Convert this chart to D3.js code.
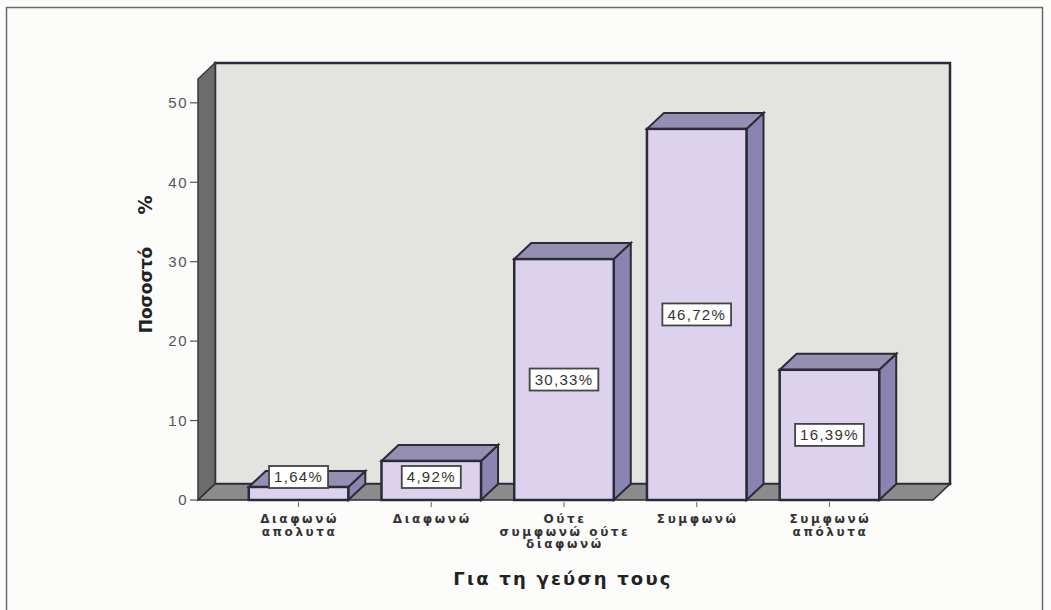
<!DOCTYPE html>
<html><head><meta charset="utf-8">
<script src="https://cdn.jsdelivr.net/npm/d3@7"></script>
<style>html,body{margin:0;padding:0;background:#fcfcfb;}</style>
</head><body>
<svg id="chart" width="1051" height="610"></svg>
<script>
const categories = [["Διαφωνώ","απολυτα"],["Διαφωνώ"],["Ούτε","συμφωνώ ούτε","διαφωνώ"],["Συμφωνώ"],["Συμφωνώ","απόλυτα"]];
const values = [1.64, 4.92, 30.33, 46.72, 16.39];
const valueLabels = ["1,64%","4,92%","30,33%","46,72%","16,39%"];
const yTicks = [0,10,20,30,40,50];
const xTitle = "Για τη γεύση τους";
const yTitle = "Ποσοστό";

const svg = d3.select("#chart");
const DX = 17, DY = -16;
const y = d3.scaleLinear().domain([0,53]).range([500,79]);
const x = d3.scaleBand().domain(d3.range(values.length)).range([199,929]).paddingInner(0.25).paddingOuter(0.375);
const floorX0 = 198, floorX1 = 933;
const outline = "#2b2a38";

// outer frame
svg.append("rect").attr("x",6.5).attr("y",7.5).attr("width",1036).attr("height",620)
  .attr("fill","none").attr("stroke","#6a6a6a").attr("stroke-width",1.5);

// back wall
svg.append("rect").attr("x",floorX0+DX).attr("y",y(53)+DY).attr("width",floorX1-floorX0)
  .attr("height",y(0)-y(53)).attr("fill","#e3e3df").attr("stroke",outline).attr("stroke-width",2.5);
// left wall
const poly = pts => pts.map(p=>p.join(",")).join(" ");
svg.append("polygon").attr("points",poly([[floorX0,y(53)],[floorX0+DX,y(53)+DY],[floorX0+DX,y(0)+DY],[floorX0,y(0)]]))
  .attr("fill","#6c6c6c").attr("stroke","#3a3a3a").attr("stroke-width",1.5);
// floor
svg.append("polygon").attr("points",poly([[floorX0,y(0)],[floorX0+DX,y(0)+DY],[floorX1+DX,y(0)+DY],[floorX1,y(0)]]))
  .attr("fill","#8b8b8b").attr("stroke",outline).attr("stroke-width",1.5);

// y axis ticks
const yg = svg.append("g");
yTicks.forEach(t=>{
  yg.append("line").attr("x1",190).attr("x2",floorX0).attr("y1",y(t)).attr("y2",y(t)).attr("stroke","#555").attr("stroke-width",1.2);
  yg.append("text").attr("x",188).attr("y",y(t)).attr("dy","0.35em").attr("text-anchor","end")
    .attr("font-family","Liberation Sans, Arial, sans-serif").attr("font-size",15).attr("letter-spacing",1.5)
    .attr("fill","#555").text(t);
});

// bars
const bars = svg.append("g");
values.forEach((v,i)=>{
  const x0 = x(i), x1 = x(i)+x.bandwidth(), yt = y(v), yb = y(0);
  bars.append("polygon").attr("points",poly([[x1,yt],[x1+DX,yt+DY],[x1+DX,yb+DY],[x1,yb]]))
    .attr("fill","#8c84b0").attr("stroke",outline).attr("stroke-width",2);
  bars.append("polygon").attr("points",poly([[x0,yt],[x0+DX,yt+DY],[x1+DX,yt+DY],[x1,yt]]))
    .attr("fill","#958fb2").attr("stroke",outline).attr("stroke-width",2);
  bars.append("rect").attr("x",x0).attr("y",yt).attr("width",x1-x0).attr("height",yb-yt)
    .attr("fill","#dcd2ee").attr("stroke",outline).attr("stroke-width",2.5);
});

// value labels
values.forEach((v,i)=>{
  const cx = x(i)+x.bandwidth()/2;
  const cy = Math.min((y(v)+y(0))/2, y(0)-23);
  const g = svg.append("g");
  const t = g.append("text").attr("x",cx).attr("y",cy).attr("dy","0.36em").attr("text-anchor","middle")
    .attr("font-family","Liberation Sans, Arial, sans-serif").attr("font-size",15).attr("letter-spacing",1.3)
    .attr("fill","#333").text(valueLabels[i]);
  const bb = t.node().getBBox();
  g.insert("rect","text").attr("x",cx-bb.width/2-5).attr("y",cy-11).attr("width",bb.width+10).attr("height",22)
    .attr("fill","#ffffff").attr("stroke","#444").attr("stroke-width",1.8);
});

// x ticks & labels
categories.forEach((lines,i)=>{
  const cx = x(i)+x.bandwidth()/2;
  svg.append("line").attr("x1",cx).attr("x2",cx).attr("y1",502).attr("y2",507).attr("stroke","#666");
  const t = svg.append("text").attr("text-anchor","middle")
    .attr("font-family","DejaVu Sans, sans-serif").attr("font-size",12).attr("font-weight","bold")
    .attr("letter-spacing",2.6).attr("fill","#333");
  lines.forEach((l,j)=>{
    t.append("tspan").attr("x",cx+1).attr("y",523+j*12.5).text(l);
  });
});

// axis titles
svg.append("text").attr("x",563).attr("y",585).attr("text-anchor","middle")
  .attr("font-family","DejaVu Sans, sans-serif").attr("font-size",18).attr("font-weight","bold")
  .attr("letter-spacing",2.2).attr("fill","#222").text(xTitle);
svg.append("text").attr("transform","translate(152,290) rotate(-90)").attr("text-anchor","middle")
  .attr("font-family","DejaVu Sans, sans-serif").attr("font-size",17).attr("font-weight","bold")
  .attr("fill","#222").text(yTitle);
svg.append("text").attr("transform","translate(152,205) rotate(-90)").attr("text-anchor","middle")
  .attr("font-family","DejaVu Sans, sans-serif").attr("font-size",19).attr("font-weight","bold")
  .attr("fill","#222").text("%");
</script>
</body></html>
